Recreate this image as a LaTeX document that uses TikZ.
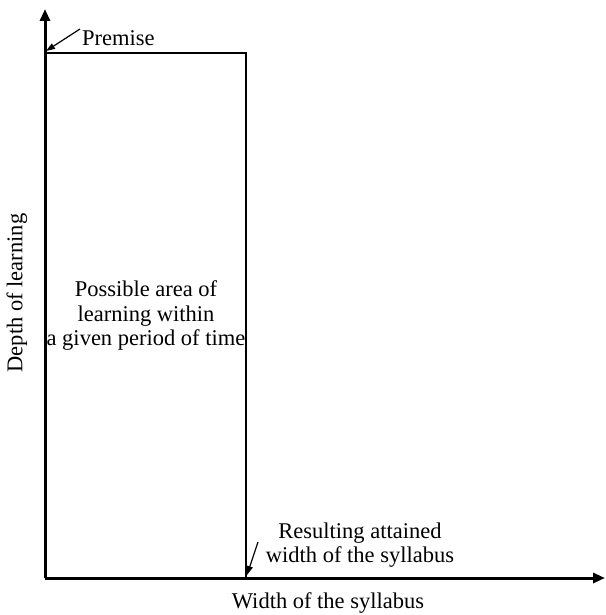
\documentclass[tikz,border=0pt]{standalone}
\usepackage{fontspec}
\setmainfont{Liberation Serif}
\usetikzlibrary{arrows.meta}
\begin{document}
\begin{tikzpicture}[x=1pt,y=-1pt,
  axis/.style={line width=3pt,-{Triangle[length=12pt,width=10pt]}},
  frame/.style={line width=2.8pt},
  pointer/.style={line width=1.2pt,-{Triangle[length=9pt,width=6pt]}},
  lbl/.style={font=\fontsize{22.5}{24.5}\selectfont,inner sep=0pt,align=center}]
\useasboundingbox (0,0) rectangle (605,615);
% axes
\coordinate (O) at (45,578);
\coordinate (ytop) at (45,9);
\coordinate (xend) at (605,578);
\draw[axis] (O) -- (ytop);
\draw[axis] (O) -- (xend);
% attainable area
\coordinate (tl) at (45,53);
\coordinate (tr) at (246,53);
\coordinate (br) at (246,578);
\draw[frame] (tl) -- (tr) -- (br);
\node[lbl] (area) at (146,316) {Possible area of\\learning within\\a given period of time};
% labels and pointers
\node[lbl,anchor=west] (premise) at (82,38) {Premise};
\coordinate (pstart) at (80,29);
\coordinate (pend) at (46,51);
\draw[pointer] (pstart) -- (pend);
\node[lbl] (result) at (360,545) {Resulting attained\\width of the syllabus};
\coordinate (rstart) at (258,542);
\coordinate (rend) at (247,575);
\draw[pointer] (rstart) -- (rend);
\node[lbl] (xlabel) at (328,603) {Width of the syllabus};
\node[lbl,rotate=90] (ylabel) at (17,293) {Depth of learning};
\end{tikzpicture}
\end{document}
